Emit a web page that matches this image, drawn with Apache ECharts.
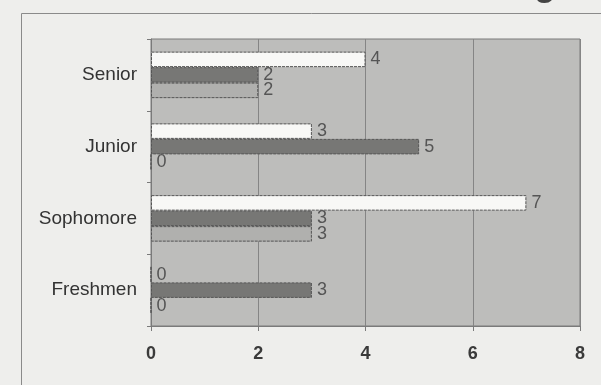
<!DOCTYPE html>
<html>
<head>
<meta charset="utf-8">
<script src="https://cdn.jsdelivr.net/npm/echarts@6/dist/echarts.min.js"></script>
<style>
  html, body { margin: 0; padding: 0; background: #eeeeec; }
  #chart { width: 601px; height: 385px; }
</style>
</head>
<body>
<div id="chart"></div>
<script>
// Class years, listed bottom to top on the category axis
const classes = ['Freshmen', 'Sophomore', 'Junior', 'Senior'];
// Three groups of counts per class (top, middle, bottom bar in each group)
const groupTop = [0, 7, 3, 4];
const groupMiddle = [3, 3, 5, 2];
const groupBottom = [0, 3, 0, 2];
const xTicks = [0, 2, 4, 6, 8];

const chart = echarts.init(document.getElementById('chart'), null, { renderer: 'canvas' });

const labelStyle = {
  show: true,
  position: 'right',
  distance: 5,
  fontFamily: 'Liberation Sans, Arial, sans-serif',
  fontSize: 18,
  color: '#555'
};

function barSeries(name, data, fill) {
  return {
    name: name,
    type: 'bar',
    data: data,
    barWidth: 15.5,
    barGap: '0%',
    itemStyle: {
      color: fill,
      borderColor: '#555',
      borderWidth: 1,
      borderType: [3, 1]
    },
    label: labelStyle,
    silent: true,
    animation: false
  };
}

chart.setOption({
  animation: false,
  backgroundColor: '#eeeeec',
  grid: {
    left: 151,
    right: 21,
    top: 39,
    bottom: 59,
    show: true,
    backgroundColor: '#bdbdbb',
    borderColor: '#7a7a7a',
    borderWidth: 1
  },
  xAxis: {
    type: 'value',
    min: xTicks[0],
    max: xTicks[xTicks.length - 1],
    interval: 2,
    axisLine: { show: true, lineStyle: { color: '#7a7a7a' } },
    axisTick: { show: true, length: 5, lineStyle: { color: '#7a7a7a' } },
    splitLine: { show: true, lineStyle: { color: '#858585', width: 1 } },
    axisLabel: {
      margin: 19,
      fontFamily: 'Liberation Sans, Arial, sans-serif',
      fontSize: 18,
      fontWeight: 'bold',
      color: '#3a3a3a'
    }
  },
  yAxis: {
    type: 'category',
    data: classes,
    axisLine: { show: true, lineStyle: { color: '#7a7a7a' } },
    axisTick: { show: true, length: 4, lineStyle: { color: '#7a7a7a' } },
    splitLine: { show: false },
    axisLabel: {
      margin: 14,
      fontFamily: 'Liberation Sans, Arial, sans-serif',
      fontSize: 19,
      color: '#333'
    }
  },
  series: [
    barSeries('top', groupTop, '#f8f8f6'),
    barSeries('middle', groupMiddle, '#777775'),
    barSeries('bottom', groupBottom, '#b0b0ae')
  ],
  graphic: [
    // page frame around the figure
    { type: 'line', shape: { x1: 21.5, y1: 13.5, x2: 601, y2: 13.5 }, style: { stroke: '#8a8a8a', lineWidth: 1 }, silent: true },
    { type: 'line', shape: { x1: 21.5, y1: 13.5, x2: 21.5, y2: 385 }, style: { stroke: '#8a8a8a', lineWidth: 1 }, silent: true },
    // tail of the heading letter above the frame
    { type: 'text', left: 534, top: -33, style: { text: 'g', font: 'bold 36px Liberation Sans, Arial, sans-serif', fill: '#444' }, silent: true }
  ]
});
</script>
</body>
</html>
